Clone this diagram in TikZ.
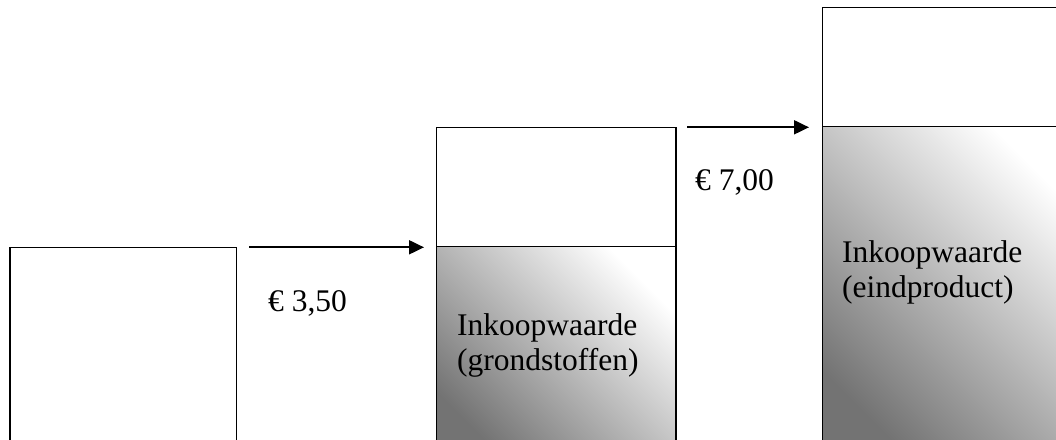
\documentclass[tikz,border=0pt]{standalone}
\usepackage{fontspec}
\setmainfont{Liberation Serif}
\usetikzlibrary{arrows.meta}
\tikzset{
  boxpart/.style={draw=black, line width=1.5pt, inner sep=0pt, outer sep=0pt},
  shadedpart/.style={boxpart, shading=axis, bottom color=black!55, top color=white, shading angle=-45},
  flow/.style={line width=2pt, -{Triangle[length=15pt,width=14pt]}},
  lbl/.style={anchor=base west, inner sep=0pt, font=\fontsize{31.5}{35}\selectfont}
}
\begin{document}
\begin{tikzpicture}[x=1pt,y=-1pt]
\useasboundingbox (0,0) rectangle (1056,439);
\clip (0,0) rectangle (1056,439);
\fill[white] (0,0) rectangle (1056,439);
% box 1
\node[boxpart, minimum width=226.7pt, minimum height=212.7pt] (b1) at (123.35,353.65) {};
% box 2
\node[boxpart, minimum width=239.3pt, minimum height=119.2pt] (b2top) at (556.35,187.1) {};
\node[shadedpart, minimum width=239.3pt, minimum height=213.3pt] (b2bot) at (556.35,353.35) {};
% box 3
\node[boxpart, minimum width=257.3pt, minimum height=119.4pt] (b3top) at (951.35,67) {};
\node[shadedpart, minimum width=257.3pt, minimum height=333.3pt] (b3bot) at (951.35,293.35) {};
% arrows
\coordinate (a1s) at (249,247.3);
\coordinate (a1e) at (424,247.3);
\coordinate (a2s) at (687,127.3);
\coordinate (a2e) at (809,127.3);
\draw[flow] (a1s) -- (a1e);
\draw[flow] (a2s) -- (a2e);
% labels
\node[lbl] (p1) at (268,311) {€ 3,50};
\node[lbl] (p2) at (695,190) {€ 7,00};
\node[lbl] (t2a) at (457,335) {Inkoopwaarde};
\node[lbl] (t2b) at (457,370) {(grondstoffen)};
\node[lbl] (t3a) at (842,262) {Inkoopwaarde};
\node[lbl] (t3b) at (842,297) {(eindproduct)};
\end{tikzpicture}
\end{document}
